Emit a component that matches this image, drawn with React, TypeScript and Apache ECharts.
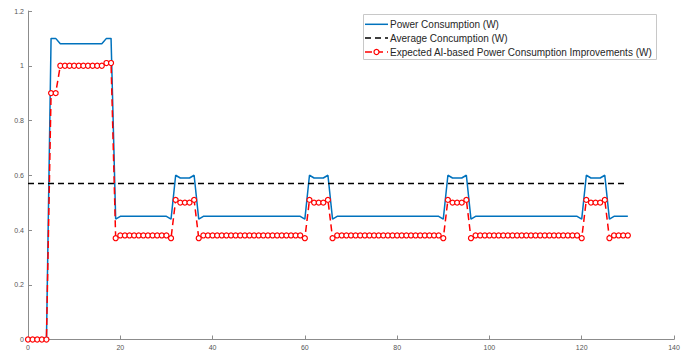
import React, { useEffect, useRef } from "react";
import * as echarts from "echarts";

// Power Consumption (W), sampled at x = 0..130
const power = [
  0, 0, 0, 0, 0,
  1.1, 1.1,
  1.08, 1.08, 1.08, 1.08, 1.08, 1.08, 1.08, 1.08, 1.08, 1.08,
  1.1, 1.1,
  0.44,
  0.45, 0.45, 0.45, 0.45, 0.45, 0.45, 0.45, 0.45, 0.45, 0.45, 0.45,
  0.44,
  0.6, 0.59, 0.59, 0.59, 0.6,
  0.44,
  0.45, 0.45, 0.45, 0.45, 0.45, 0.45, 0.45, 0.45, 0.45, 0.45, 0.45,
  0.45, 0.45, 0.45, 0.45, 0.45, 0.45, 0.45, 0.45, 0.45, 0.45, 0.45,
  0.44,
  0.6, 0.59, 0.59, 0.59, 0.6,
  0.44,
  0.45, 0.45, 0.45, 0.45, 0.45, 0.45, 0.45, 0.45, 0.45, 0.45, 0.45, 0.45,
  0.45, 0.45, 0.45, 0.45, 0.45, 0.45, 0.45, 0.45, 0.45, 0.45, 0.45,
  0.44,
  0.6, 0.59, 0.59, 0.59, 0.6,
  0.44,
  0.45, 0.45, 0.45, 0.45, 0.45, 0.45, 0.45, 0.45, 0.45, 0.45, 0.45, 0.45,
  0.45, 0.45, 0.45, 0.45, 0.45, 0.45, 0.45, 0.45, 0.45, 0.45, 0.45,
  0.44,
  0.6, 0.59, 0.59, 0.59, 0.6,
  0.44,
  0.45, 0.45, 0.45, 0.45,
];

// Expected AI-based Power Consumption Improvements (W), x = 0..130
const improved = [
  0, 0, 0, 0, 0,
  0.9, 0.9,
  1.0, 1.0, 1.0, 1.0, 1.0, 1.0, 1.0, 1.0, 1.0, 1.0,
  1.01, 1.01,
  0.37,
  0.38, 0.38, 0.38, 0.38, 0.38, 0.38, 0.38, 0.38, 0.38, 0.38, 0.38,
  0.37,
  0.51, 0.5, 0.5, 0.5, 0.51,
  0.37,
  0.38, 0.38, 0.38, 0.38, 0.38, 0.38, 0.38, 0.38, 0.38, 0.38, 0.38,
  0.38, 0.38, 0.38, 0.38, 0.38, 0.38, 0.38, 0.38, 0.38, 0.38, 0.38,
  0.37,
  0.51, 0.5, 0.5, 0.5, 0.51,
  0.37,
  0.38, 0.38, 0.38, 0.38, 0.38, 0.38, 0.38, 0.38, 0.38, 0.38, 0.38, 0.38,
  0.38, 0.38, 0.38, 0.38, 0.38, 0.38, 0.38, 0.38, 0.38, 0.38, 0.38,
  0.37,
  0.51, 0.5, 0.5, 0.5, 0.51,
  0.37,
  0.38, 0.38, 0.38, 0.38, 0.38, 0.38, 0.38, 0.38, 0.38, 0.38, 0.38, 0.38,
  0.38, 0.38, 0.38, 0.38, 0.38, 0.38, 0.38, 0.38, 0.38, 0.38, 0.38,
  0.37,
  0.51, 0.5, 0.5, 0.5, 0.51,
  0.37,
  0.38, 0.38, 0.38, 0.38,
];

const averageValue = 0.57;
const averageRange = [0, 130];

const seriesNames = [
  "Power Consumption (W)",
  "Average Concumption (W)",
  "Expected AI-based Power Consumption Improvements (W)",
];

const blue = "#0072BD";
const red = "#ff0000";
const black = "#000000";
const axisColor = "#8c8c8c";
const labelColor = "#555555";
const font = "Liberation Sans, Arial, Helvetica, sans-serif";

export default function App() {
  const ref = useRef<HTMLDivElement>(null);
  useEffect(() => {
    const chart = echarts.init(ref.current!, null, { renderer: "svg" });

    // Legend drawn by hand (MATLAB style)
    const lx = 363.5;
    const ly = 14.5;
    const rows = [24.3, 38, 52];
    const sx1 = 365;
    const sx2 = 388;
    const tx = 390;
    const legendGraphics: any[] = [
      {
        type: "rect",
        shape: { x: lx, y: ly, width: 293, height: 45 },
        style: { fill: "#ffffff", stroke: "#c8c8c8", lineWidth: 1 },
        z: 100,
      },
      {
        type: "line",
        shape: { x1: sx1, y1: rows[0], x2: sx2, y2: rows[0] },
        style: { stroke: blue, lineWidth: 1.5 },
        z: 101,
      },
      {
        type: "line",
        shape: { x1: sx1, y1: rows[1], x2: sx2, y2: rows[1] },
        style: { stroke: black, lineWidth: 1.5, lineDash: [6, 4] },
        z: 101,
      },
      {
        type: "line",
        shape: { x1: sx1, y1: rows[2], x2: sx2, y2: rows[2] },
        style: { stroke: red, lineWidth: 1.5, lineDash: [7, 4] },
        z: 101,
      },
      {
        type: "circle",
        shape: { cx: (sx1 + sx2) / 2, cy: rows[2], r: 2.5 },
        style: { fill: "#ffffff", stroke: red, lineWidth: 1.2 },
        z: 102,
      },
      ...seriesNames.map((name, i) => ({
        type: "text",
        x: tx,
        y: rows[i],
        style: {
          text: name,
          fill: "#262626",
          fontSize: 10,
          fontFamily: font,
          verticalAlign: "middle",
          align: "left",
        },
        z: 102,
      })),
    ];

    chart.setOption({
      animation: false,
      backgroundColor: "#ffffff",
      grid: { left: 28, right: 19, top: 11, bottom: 11.5, containLabel: false },
      xAxis: {
        type: "value",
        min: 0,
        max: 140,
        interval: 20,
        axisLine: { lineStyle: { color: axisColor, width: 1 } },
        axisTick: { inside: true, length: 4, lineStyle: { color: axisColor } },
        axisLabel: { fontSize: 7, color: labelColor, margin: 4, fontFamily: font },
        splitLine: { show: false },
      },
      yAxis: {
        type: "value",
        min: 0,
        max: 1.2,
        interval: 0.2,
        axisLine: { show: true, lineStyle: { color: axisColor, width: 1 } },
        axisTick: { show: true, inside: true, length: 4, lineStyle: { color: axisColor } },
        axisLabel: { fontSize: 7, color: labelColor, margin: 4, fontFamily: font },
        splitLine: { show: false },
      },
      legend: { show: false },
      graphic: legendGraphics,
      series: [
        {
          name: seriesNames[0],
          type: "line",
          data: power.map((v, i) => [i, v]),
          symbol: "none",
          lineStyle: { color: blue, width: 1.5 },
          itemStyle: { color: blue },
          z: 2,
        },
        {
          name: seriesNames[1],
          type: "line",
          data: averageRange.map((x) => [x, averageValue]),
          symbol: "none",
          lineStyle: { color: black, width: 1.5, type: [6, 4] },
          itemStyle: { color: black },
          z: 3,
        },
        {
          name: seriesNames[2],
          type: "line",
          data: improved.map((v, i) => [i, v]),
          symbol: "circle",
          symbolSize: 5,
          showSymbol: true,
          lineStyle: { color: red, width: 1.5, type: [7, 4] },
          itemStyle: { color: "#ffffff", borderColor: red, borderWidth: 1.2 },
          z: 4,
        },
      ],
    });
    return () => chart.dispose();
  }, []);
  return (
    <div
      ref={ref}
      style={{ position: "fixed", left: 0, top: 0, width: 693, height: 351, background: "#fff" }}
    />
  );
}
